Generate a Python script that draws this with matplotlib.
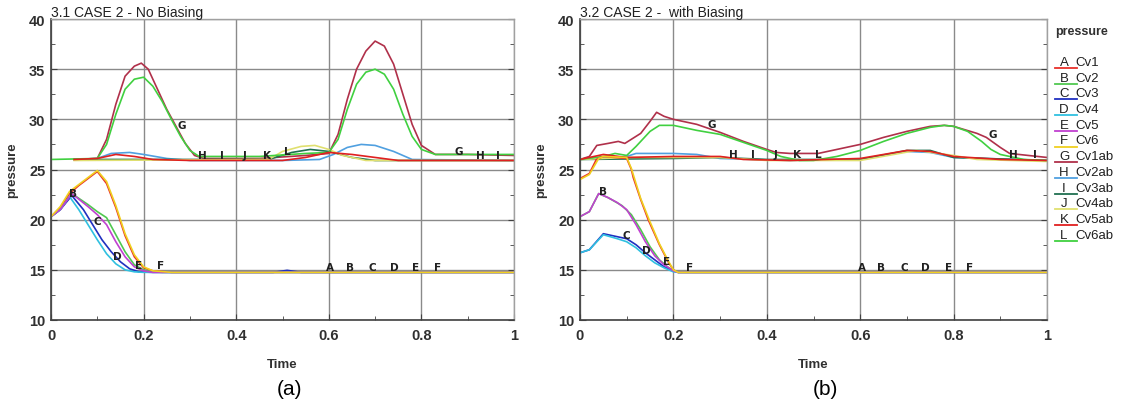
import matplotlib
matplotlib.use("Agg")
import matplotlib.pyplot as plt
from matplotlib.lines import Line2D
from matplotlib.ticker import MultipleLocator, FuncFormatter

plt.rcParams['font.family'] = ['Liberation Sans', 'DejaVu Sans']

# series names and colours
letters = ['A', 'B', 'C', 'D', 'E', 'F', 'G', 'H', 'I', 'J', 'K', 'L']
names = ['Cv1', 'Cv2', 'Cv3', 'Cv4', 'Cv5', 'Cv6',
         'Cv1ab', 'Cv2ab', 'Cv3ab', 'Cv4ab', 'Cv5ab', 'Cv6ab']
colors = ['#e8302a', '#50c850', '#2030c0', '#30c0e0', '#c040d0', '#f0d020',
          '#b0304a', '#50a0e0', '#207050', '#e0e070', '#e02020', '#40d040']

# ---------------- (a) no biasing ----------------
a_cv1_t = [0, 0.02, 0.04, 0.06, 0.08, 0.10, 0.12, 0.14, 0.16, 0.18, 0.20, 0.22, 0.26, 1.0]
a_cv1_p = [20.3, 21.2, 22.6, 23.4, 24.1, 24.8, 23.6, 21.2, 18.4, 16.3, 15.2, 14.9, 14.75, 14.75]
a_cv2_t = [0, 0.02, 0.045, 0.08, 0.10, 0.12, 0.14, 0.16, 0.18, 0.20, 0.22, 0.24, 1.0]
a_cv2_p = [20.3, 21.0, 22.6, 21.5, 20.8, 20.2, 18.5, 16.8, 15.5, 15.0, 14.8, 14.75, 14.75]
a_cv3_t = [0, 0.02, 0.045, 0.07, 0.09, 0.11, 0.13, 0.15, 0.17, 0.19, 0.22, 0.48, 0.51, 0.54, 1.0]
a_cv3_p = [20.3, 21.0, 22.4, 21.0, 19.5, 18.0, 16.8, 15.8, 15.1, 14.8, 14.75, 14.75, 14.95, 14.75, 14.75]
a_cv4_t = [0, 0.02, 0.04, 0.06, 0.08, 0.10, 0.12, 0.14, 0.16, 0.18, 0.20, 0.22, 1.0]
a_cv4_p = [20.3, 21.0, 22.3, 21.0, 19.5, 18.0, 16.6, 15.6, 15.0, 14.8, 14.75, 14.75, 14.75]
a_cv5_t = [0, 0.02, 0.045, 0.08, 0.10, 0.12, 0.14, 0.16, 0.18, 0.20, 0.22, 1.0]
a_cv5_p = [20.3, 21.0, 22.6, 21.3, 20.5, 19.5, 17.8, 16.3, 15.3, 14.9, 14.75, 14.75]
a_cv6_t = [0, 0.02, 0.04, 0.06, 0.08, 0.10, 0.12, 0.14, 0.16, 0.18, 0.20, 0.22, 0.26, 1.0]
a_cv6_p = [20.3, 21.3, 22.8, 23.5, 24.2, 24.9, 23.8, 21.4, 18.6, 16.5, 15.3, 14.9, 14.75, 14.75]

a_cv1ab_t = [0.05, 0.10, 0.12, 0.14, 0.16, 0.18, 0.195, 0.21, 0.23, 0.25, 0.27, 0.29, 0.31, 0.33,
             0.45, 0.55, 0.60, 0.62, 0.64, 0.66, 0.68, 0.70, 0.72, 0.74, 0.76, 0.78, 0.80, 0.83, 0.90, 1.0]
a_cv1ab_p = [26.0, 26.1, 28.0, 31.5, 34.3, 35.3, 35.6, 35.0, 33.0, 31.0, 29.3, 27.6, 26.4, 26.1,
             26.1, 26.4, 26.6, 28.5, 32.0, 35.0, 36.8, 37.8, 37.3, 35.5, 32.5, 29.5, 27.4, 26.5, 26.5, 26.4]
a_cv2ab_t = [0.05, 0.10, 0.13, 0.17, 0.20, 0.25, 0.30, 0.50, 0.58, 0.61, 0.64, 0.67, 0.70, 0.74, 0.78, 1.0]
a_cv2ab_p = [26.0, 26.1, 26.6, 26.7, 26.5, 26.1, 25.9, 25.9, 26.0, 26.5, 27.2, 27.5, 27.4, 26.8, 26.0, 25.9]
a_cv3ab_t = [0.05, 0.47, 0.52, 0.56, 0.60, 0.65, 0.70, 1.0]
a_cv3ab_p = [26.0, 26.0, 26.7, 27.0, 26.8, 26.2, 25.9, 25.9]
a_cv4ab_t = [0.05, 0.47, 0.50, 0.54, 0.57, 0.60, 0.63, 0.68, 1.0]
a_cv4ab_p = [25.9, 26.0, 26.8, 27.3, 27.4, 27.0, 26.4, 25.9, 25.9]
a_cv5ab_t = [0.05, 0.10, 0.14, 0.18, 0.22, 0.30, 0.50, 0.55, 0.60, 0.65, 0.70, 0.75, 1.0]
a_cv5ab_p = [26.0, 26.1, 26.5, 26.3, 26.0, 25.9, 25.9, 26.2, 26.7, 26.5, 26.2, 25.9, 25.9]
a_cv6ab_t = [0.0, 0.10, 0.12, 0.14, 0.16, 0.18, 0.20, 0.22, 0.24, 0.26, 0.28, 0.30, 0.32, 0.45,
             0.55, 0.60, 0.62, 0.64, 0.66, 0.68, 0.70, 0.72, 0.74, 0.76, 0.78, 0.80, 0.83, 1.0]
a_cv6ab_p = [26.0, 26.1, 27.5, 30.5, 33.0, 34.0, 34.2, 33.3, 31.8, 30.0, 28.3, 26.9, 26.3, 26.3,
             26.6, 26.7, 28.0, 31.0, 33.5, 34.7, 35.0, 34.5, 33.0, 30.5, 28.3, 27.0, 26.5, 26.5]

# ---------------- (b) with biasing ----------------
b_cv1_t = [0, 0.02, 0.035, 0.05, 0.10, 0.11, 0.114, 0.13, 0.146, 0.17, 0.19, 0.20, 0.21, 1.0]
b_cv1_p = [24.1, 24.6, 26.0, 26.3, 26.1, 25.0, 24.2, 22.0, 20.0, 17.5, 15.7, 15.0, 14.75, 14.75]
b_cv2_t = [0, 0.02, 0.04, 0.06, 0.09, 0.11, 0.13, 0.15, 0.17, 0.19, 0.21, 1.0]
b_cv2_p = [20.3, 20.8, 22.6, 22.2, 21.4, 20.5, 19.0, 17.3, 16.0, 15.2, 14.75, 14.75]
b_cv3_t = [0, 0.02, 0.05, 0.08, 0.10, 0.12, 0.14, 0.16, 0.18, 0.20, 0.21, 1.0]
b_cv3_p = [16.7, 17.0, 18.6, 18.3, 18.1, 17.5, 16.7, 16.0, 15.3, 14.9, 14.75, 14.75]
b_cv4_t = [0, 0.02, 0.05, 0.08, 0.10, 0.12, 0.14, 0.16, 0.18, 0.20, 0.21, 1.0]
b_cv4_p = [16.7, 17.0, 18.5, 18.1, 17.8, 17.2, 16.4, 15.7, 15.2, 14.8, 14.75, 14.75]
b_cv5_t = [0, 0.02, 0.04, 0.06, 0.08, 0.10, 0.12, 0.14, 0.16, 0.18, 0.20, 0.21, 1.0]
b_cv5_p = [20.3, 20.8, 22.6, 22.2, 21.7, 21.0, 19.5, 17.8, 16.4, 15.5, 14.9, 14.75, 14.75]
b_cv6_t = [0, 0.02, 0.04, 0.05, 0.10, 0.11, 0.116, 0.13, 0.148, 0.17, 0.19, 0.20, 0.21, 1.0]
b_cv6_p = [24.0, 24.5, 26.1, 26.3, 26.2, 25.1, 24.2, 22.1, 20.0, 17.6, 15.8, 15.0, 14.75, 14.75]

b_cv1ab_t = [0, 0.02, 0.036, 0.06, 0.082, 0.096, 0.13, 0.15, 0.164, 0.18, 0.20, 0.25, 0.30, 0.35,
             0.40, 0.42, 0.45, 0.51, 0.55, 0.60, 0.65, 0.70, 0.75, 0.78, 0.80, 0.85, 0.87, 0.90,
             0.92, 0.96, 1.0]
b_cv1ab_p = [26.0, 26.3, 27.4, 27.6, 27.8, 27.6, 28.6, 29.8, 30.7, 30.3, 30.0, 29.5, 28.7, 27.8,
             27.0, 26.7, 26.6, 26.6, 27.0, 27.5, 28.2, 28.8, 29.3, 29.4, 29.3, 28.6, 28.2, 27.2,
             26.6, 26.4, 26.2]
b_cv2ab_t = [0, 0.10, 0.12, 0.20, 0.25, 0.30, 0.45, 0.60, 0.65, 0.70, 0.75, 0.80, 1.0]
b_cv2ab_p = [26.0, 26.3, 26.6, 26.6, 26.5, 26.1, 25.9, 26.0, 26.4, 26.8, 26.7, 26.2, 25.9]
b_cv3ab_t = [0, 0.20, 0.30, 0.40, 0.60, 0.70, 0.75, 0.80, 1.0]
b_cv3ab_p = [26.0, 26.1, 26.2, 26.0, 26.0, 26.9, 26.9, 26.2, 25.9]
b_cv4ab_t = [0, 0.10, 0.30, 0.40, 0.60, 0.72, 0.80, 0.85, 1.0]
b_cv4ab_p = [26.0, 26.2, 26.2, 25.9, 25.9, 26.9, 26.4, 26.0, 25.8]
b_cv5ab_t = [0, 0.05, 0.10, 0.20, 0.30, 0.35, 0.45, 0.60, 0.70, 0.75, 0.80, 0.90, 1.0]
b_cv5ab_p = [26.0, 26.5, 26.2, 26.3, 26.3, 26.0, 25.9, 26.1, 26.9, 26.8, 26.3, 26.0, 25.9]
b_cv6ab_t = [0, 0.05, 0.075, 0.10, 0.12, 0.15, 0.17, 0.20, 0.25, 0.30, 0.35, 0.40, 0.43, 0.47,
             0.50, 0.55, 0.60, 0.65, 0.70, 0.75, 0.78, 0.80, 0.83, 0.86, 0.88, 0.90, 0.95, 1.0]
b_cv6ab_p = [26.0, 26.3, 26.6, 26.4, 27.3, 28.8, 29.4, 29.4, 28.9, 28.5, 27.7, 26.9, 26.3, 25.9,
             25.9, 26.3, 26.9, 27.8, 28.6, 29.2, 29.4, 29.3, 28.8, 27.8, 27.0, 26.5, 26.0, 25.9]

# curve letters (letter, time, pressure)
a_marks = [('B', 0.048, 22.7), ('C', 0.10, 19.9), ('D', 0.143, 16.4), ('E', 0.189, 15.5),
           ('F', 0.236, 15.5), ('A', 0.603, 15.3), ('B', 0.645, 15.3), ('C', 0.695, 15.3),
           ('D', 0.741, 15.3), ('E', 0.788, 15.3), ('F', 0.834, 15.3),
           ('G', 0.282, 29.4), ('H', 0.328, 26.4), ('I', 0.369, 26.4), ('J', 0.419, 26.4),
           ('K', 0.466, 26.4), ('L', 0.51, 26.8), ('G', 0.88, 26.8), ('H', 0.927, 26.4),
           ('I', 0.965, 26.4)]
b_marks = [('B', 0.05, 22.9), ('C', 0.10, 18.5), ('D', 0.143, 17.0), ('E', 0.186, 15.9),
           ('F', 0.235, 15.3), ('A', 0.603, 15.3), ('B', 0.645, 15.3), ('C', 0.695, 15.3),
           ('D', 0.74, 15.3), ('E', 0.79, 15.3), ('F', 0.835, 15.3),
           ('G', 0.282, 29.5), ('H', 0.328, 26.5), ('I', 0.37, 26.5), ('J', 0.418, 26.5),
           ('K', 0.465, 26.5), ('L', 0.51, 26.5), ('G', 0.884, 28.5), ('H', 0.929, 26.5),
           ('I', 0.974, 26.5)]

a_series = [(a_cv1_t, a_cv1_p), (a_cv2_t, a_cv2_p), (a_cv3_t, a_cv3_p), (a_cv4_t, a_cv4_p),
            (a_cv5_t, a_cv5_p), (a_cv6_t, a_cv6_p), (a_cv1ab_t, a_cv1ab_p), (a_cv2ab_t, a_cv2ab_p),
            (a_cv3ab_t, a_cv3ab_p), (a_cv4ab_t, a_cv4ab_p), (a_cv5ab_t, a_cv5ab_p), (a_cv6ab_t, a_cv6ab_p)]
b_series = [(b_cv1_t, b_cv1_p), (b_cv2_t, b_cv2_p), (b_cv3_t, b_cv3_p), (b_cv4_t, b_cv4_p),
            (b_cv5_t, b_cv5_p), (b_cv6_t, b_cv6_p), (b_cv1ab_t, b_cv1ab_p), (b_cv2ab_t, b_cv2ab_p),
            (b_cv3ab_t, b_cv3ab_p), (b_cv4ab_t, b_cv4ab_p), (b_cv5ab_t, b_cv5ab_p), (b_cv6ab_t, b_cv6ab_p)]

W, H = 1122, 406
fig = plt.figure(figsize=(W / 100, H / 100), dpi=100)
fig.patch.set_facecolor('white')


def setup(ax, title, series, marks):
    # draw ab group first, then the lower group with yellow last
    order = [6, 7, 8, 9, 11, 10, 0, 1, 2, 3, 4, 5]
    for i in order:
        t, p = series[i]
        ax.plot(t, p, color=colors[i], lw=1.2, solid_joinstyle='round')
    for ch, x, y in marks:
        ax.text(x, y, ch, fontsize=7.5, fontweight='bold', color='#202020',
                ha='center', va='center', family='DejaVu Sans')
    ax.set_xlim(0, 1)
    ax.set_ylim(10, 40)
    ax.xaxis.set_major_locator(MultipleLocator(0.2))
    ax.xaxis.set_minor_locator(MultipleLocator(0.1))
    ax.yaxis.set_major_locator(MultipleLocator(5))
    ax.yaxis.set_minor_locator(MultipleLocator(2.5))
    ax.xaxis.set_major_formatter(FuncFormatter(lambda v, _: '%g' % round(v, 1)))
    ax.grid(True, which='major', color='#8a8a8a', lw=1.0)
    ax.tick_params(which='both', direction='in', color='#404040', labelsize=10.5,
                   right=True, top=False, labelcolor='#303030')
    ax.tick_params(axis='x', pad=6)
    ax.tick_params(axis='y', pad=4)
    ax.tick_params(which='major', length=4)
    ax.tick_params(which='minor', length=3)
    plt.setp(ax.get_xticklabels() + ax.get_yticklabels(), fontweight='bold')
    for s in ['left', 'bottom']:
        ax.spines[s].set_color('#404040')
        ax.spines[s].set_linewidth(1.2)
    for s in ['top', 'right']:
        ax.spines[s].set_color('#a0a0a0')
        ax.spines[s].set_linewidth(1.0)
    ax.set_xlabel('Time', fontsize=9.5, fontweight='bold', color='#303030', labelpad=11)
    ax.set_title(title, loc='left', fontsize=10, color='#202020', pad=2)


axL = fig.add_axes([51 / W, 1 - 321 / H, 463 / W, 301 / H])
setup(axL, '3.1 CASE 2 - No Biasing', a_series, a_marks)
axL.set_ylabel('pressure', fontsize=9.5, fontweight='bold', color='#303030', labelpad=8)

axR = fig.add_axes([580 / W, 1 - 321 / H, 467 / W, 301 / H])
setup(axR, '3.2 CASE 2 -  with Biasing', b_series, b_marks)
axR.set_ylabel('pressure', fontsize=9.5, fontweight='bold', color='#303030', labelpad=8)

fig.text(290 / W, 1 - 390 / H, '(a)', fontsize=15, ha='center', va='center')
fig.text(825 / W, 1 - 390 / H, '(b)', fontsize=15, ha='center', va='center')

# legend at right
fig.text(1055 / W, 1 - 32 / H, 'pressure', fontsize=9, fontweight='bold', color='#303030',
         ha='left', va='center')
for k in range(12):
    yy = 63 + k * 15.7
    fig.text(1064 / W, 1 - yy / H, letters[k], fontsize=9.5, color='#202020',
             ha='center', va='center')
    fig.text(1075 / W, 1 - yy / H, names[k], fontsize=9.5, color='#202020',
             ha='left', va='center')
    fig.add_artist(Line2D([1055 / W, 1077 / W], [1 - (yy + 6) / H, 1 - (yy + 6) / H],
                          color=colors[k], lw=1.3, transform=fig.transFigure))

fig.savefig('out.png', dpi=100)
